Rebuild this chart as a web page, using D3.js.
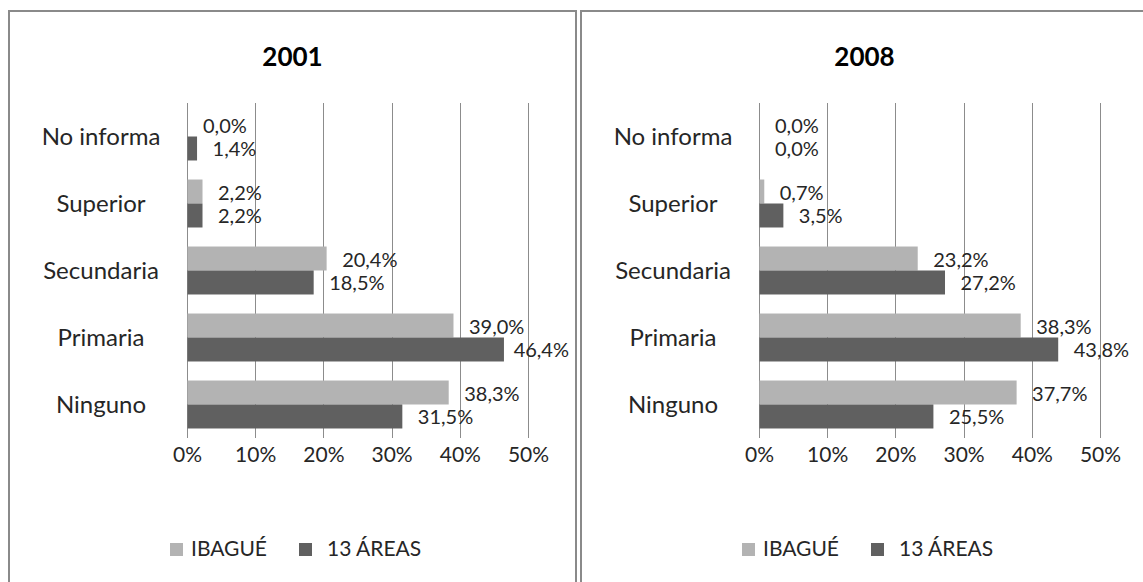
<!DOCTYPE html>
<html>
<head>
<meta charset="utf-8">
<script src="https://cdn.jsdelivr.net/npm/d3@7"></script>
<style>
  body { margin: 0; background: #fff; }
  svg text { font-family: Lato, "Open Sans", sans-serif; }
</style>
</head>
<body>
<svg id="chart" width="1143" height="582"></svg>
<script>
const categories = ["No informa", "Superior", "Secundaria", "Primaria", "Ninguno"]
const seriesNames = ["IBAGUÉ", "13 ÁREAS"]
const years = ["2001", "2008"]
const ibague2001 = [0.0, 2.2, 20.4, 39.0, 38.3]
const areas2001 = [1.4, 2.2, 18.5, 46.4, 31.5]
const ibague2008 = [0.0, 0.7, 23.2, 38.3, 37.7]
const areas2008 = [0.0, 3.5, 27.2, 43.8, 25.5]
const xTicks = [0, 10, 20, 30, 40, 50]

const colors = ["#b3b3b3", "#606060"]
const textColor = "#262626"
const panelWidth = 569
const svg = d3.select("#chart")

function fmt(v){
    return d3.format(".1f")(v).replace(".", ",") + "%"
}

function drawPanel(px, title, ibague, areas){
    let g = svg.append("g").attr("transform", `translate(${px},0)`)

    // panel frame
    g.append("rect")
    .attr("x", 1)
    .attr("y", 11)
    .attr("width", panelWidth - 2)
    .attr("height", 600)
    .attr("fill", "none")
    .attr("stroke", "#8a8a8a")
    .attr("stroke-width", 2)

    g.append("text")
    .attr("x", panelWidth / 2)
    .attr("y", 57)
    .attr("dy", "0.35em")
    .attr("text-anchor", "middle")
    .attr("font-size", "26px")
    .attr("font-weight", "bold")
    .attr("fill", "#000")
    .text(title)

    let x = d3.scaleLinear().domain([0, 50]).range([179, 520])
    let y = d3.scaleBand().domain(categories).range([103, 438])
        .paddingInner(0.284).paddingOuter(0.142)
    let ySub = d3.scaleBand().domain(seriesNames).range([0, y.bandwidth()])

    // gridlines
    g.append("g")
    .selectAll("line")
    .data(xTicks)
    .join("line")
    .attr("x1", d => Math.round(x(d)) + 0.5)
    .attr("x2", d => Math.round(x(d)) + 0.5)
    .attr("y1", 103)
    .attr("y2", 438)
    .attr("stroke", "#8c8c8c")
    .attr("stroke-width", 1)

    // tick labels
    let axis = g.append("g")
    .attr("transform", "translate(0,438)")
    .call(d3.axisBottom(x).tickValues(xTicks).tickSize(0).tickPadding(9).tickFormat(d => d + "%"))
    axis.select(".domain").remove()
    axis.selectAll("text")
    .attr("font-size", "21px")
    .attr("fill", textColor)
    .attr("font-family", null)

    // category labels
    g.append("g")
    .selectAll("text")
    .data(categories)
    .join("text")
    .attr("x", 93)
    .attr("y", d => y(d) + y.bandwidth() / 2)
    .attr("dy", "0.35em")
    .attr("text-anchor", "middle")
    .attr("font-size", "24px")
    .attr("fill", textColor)
    .text(d => d)

    let rows = []
    for(let idx = 0; idx < categories.length; idx++){
        rows.push({cat: categories[idx], s: seriesNames[0], v: ibague[idx], c: colors[0]})
        rows.push({cat: categories[idx], s: seriesNames[1], v: areas[idx], c: colors[1]})
    }

    g.append("g")
    .selectAll("rect")
    .data(rows)
    .join("rect")
    .attr("x", x(0) + 0.5)
    .attr("y", d => y(d.cat) + ySub(d.s))
    .attr("width", d => Math.max(0, x(d.v) - x(0)))
    .attr("height", ySub.bandwidth())
    .attr("fill", d => d.c)

    // data labels, pushed back inside the panel when they would run over the edge
    g.append("g")
    .selectAll("text")
    .data(rows)
    .join("text")
    .attr("y", d => y(d.cat) + ySub(d.s) + ySub.bandwidth() / 2 + 1)
    .attr("dy", "0.35em")
    .attr("font-size", "20px")
    .attr("fill", textColor)
    .text(d => fmt(d.v))
    .attr("x", function(d){
        let w = this.getComputedTextLength()
        return Math.min(x(d.v) + 16, panelWidth - 8 - w)
    })

    // legend
    let legendX = [162, 291]
    let lg = g.append("g")
    for(let idx = 0; idx < seriesNames.length; idx++){
        lg.append("rect")
        .attr("x", legendX[idx])
        .attr("y", 543)
        .attr("width", 13)
        .attr("height", 13)
        .attr("fill", colors[idx])
        lg.append("text")
        .attr("x", legendX[idx] + (idx === 0 ? 21 : 28))
        .attr("y", 549)
        .attr("dy", "0.35em")
        .attr("font-size", "21px")
        .attr("fill", textColor)
        .text(seriesNames[idx])
    }
}

drawPanel(8, years[0], ibague2001, areas2001)
drawPanel(580, years[1], ibague2008, areas2008)
</script>
</body>
</html>
